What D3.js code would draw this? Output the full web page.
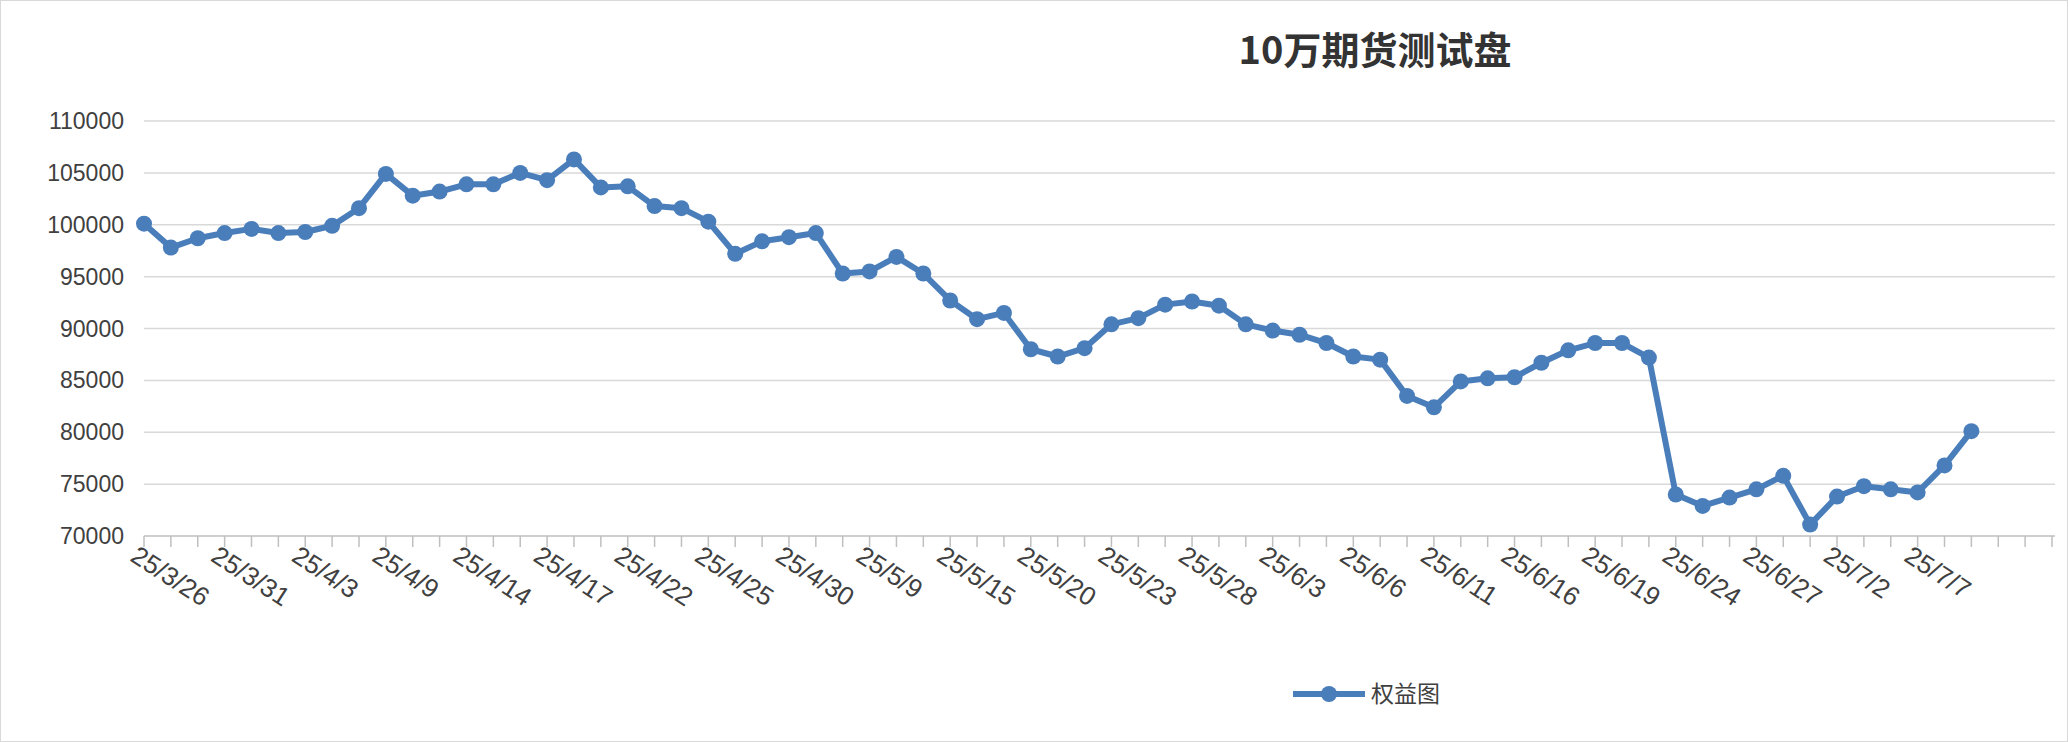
<!DOCTYPE html>
<html><head><meta charset="utf-8">
<script src="https://cdn.jsdelivr.net/npm/d3@7/dist/d3.min.js"></script>
<style>body{margin:0;background:#fff}svg{display:block}</style>
</head><body><svg id="c" width="2068" height="742"></svg>
<script>
const dates = ["25/3/26","25/3/27","25/3/28","25/3/31","25/4/1","25/4/2","25/4/3","25/4/7","25/4/8","25/4/9","25/4/10","25/4/11","25/4/14","25/4/15","25/4/16","25/4/17","25/4/18","25/4/21","25/4/22","25/4/23","25/4/24","25/4/25","25/4/28","25/4/29","25/4/30","25/5/6","25/5/7","25/5/9","25/5/12","25/5/13","25/5/15","25/5/16","25/5/19","25/5/20","25/5/21","25/5/22","25/5/23","25/5/26","25/5/27","25/5/28","25/5/29","25/5/30","25/6/3","25/6/4","25/6/5","25/6/6","25/6/9","25/6/10","25/6/11","25/6/12","25/6/13","25/6/16","25/6/17","25/6/18","25/6/19","25/6/20","25/6/23","25/6/24","25/6/25","25/6/26","25/6/27","25/6/30","25/7/1","25/7/2","25/7/3","25/7/4","25/7/7","25/7/8","25/7/9","25/7/10","25/7/11","25/7/14"];
const equity = [100100,97800,98700,99200,99600,99200,99300,99900,101600,104900,102800,103200,103900,103900,105000,104300,106300,103600,103700,101800,101600,100300,97200,98400,98800,99200,95300,95500,96900,95300,92700,90900,91500,88000,87300,88100,90400,91000,92300,92600,92200,90400,89800,89400,88600,87300,87000,83500,82400,84900,85200,85300,86700,87900,88600,88600,87200,74000,72900,73700,74500,75800,71100,73800,74800,74500,74200,76800,80100];
const yTicks = [70000,75000,80000,85000,90000,95000,100000,105000,110000];
const title = "10万期货测试盘", seriesName = "权益图";
const color = "#4a7ebb";
const svg = d3.select("#c");
svg.append("rect").attr("x",0.5).attr("y",0.5).attr("width",2067).attr("height",741).attr("fill","#fff").attr("stroke","#d9d9d9");
const x = d3.scalePoint().domain(dates).range([144,2052]);
const y = d3.scaleLinear().domain([70000,110000]).range([536,121]);
const font = "Liberation Sans, Arial, sans-serif";
svg.append("text").attr("x",1375).attr("y",64).attr("text-anchor","middle").attr("font-family","Noto Sans CJK SC, sans-serif").attr("font-weight","bold").attr("font-size",38).attr("fill","#333").text(title);
const g = svg.append("g");
yTicks.forEach(t=>{
  if(t>70000) g.append("line").attr("x1",144).attr("x2",2055).attr("y1",y(t)).attr("y2",y(t)).attr("stroke","#d9d9d9").attr("stroke-width",1.5);
  g.append("text").attr("x",124).attr("y",y(t)+8).attr("text-anchor","end").attr("font-family",font).attr("font-size",23).attr("fill","#404040").text(t);
});
g.append("line").attr("x1",144).attr("x2",2055).attr("y1",y(70000)).attr("y2",y(70000)).attr("stroke","#bfbfbf").attr("stroke-width",1.5);
dates.forEach((d,i)=>{
  g.append("line").attr("x1",x(d)).attr("x2",x(d)).attr("y1",y(70000)).attr("y2",y(70000)+11).attr("stroke","#bfbfbf").attr("stroke-width",1.5);
  if(i%3===0 && i<=66){
    g.append("text").attr("transform",`translate(${x(d)-15},${y(70000)+24}) rotate(33)`).attr("font-family",font).attr("font-size",26).attr("fill","#404040").text(d);
  }
});
const pts = equity.map((v,i)=>[x(dates[i]),y(v)]);
g.append("path").attr("d",d3.line()(pts)).attr("fill","none").attr("stroke",color).attr("stroke-width",6).attr("stroke-linejoin","round");
g.selectAll("circle.p").data(pts).join("circle").attr("cx",d=>d[0]).attr("cy",d=>d[1]).attr("r",8).attr("fill",color);
svg.append("line").attr("x1",1293).attr("x2",1365).attr("y1",694).attr("y2",694).attr("stroke",color).attr("stroke-width",6);
svg.append("circle").attr("cx",1329).attr("cy",694).attr("r",8).attr("fill",color);
svg.append("text").attr("x",1371).attr("y",702).attr("font-family","Noto Sans CJK SC, sans-serif").attr("font-size",23).attr("fill","#404040").text(seriesName);
</script></body></html>
